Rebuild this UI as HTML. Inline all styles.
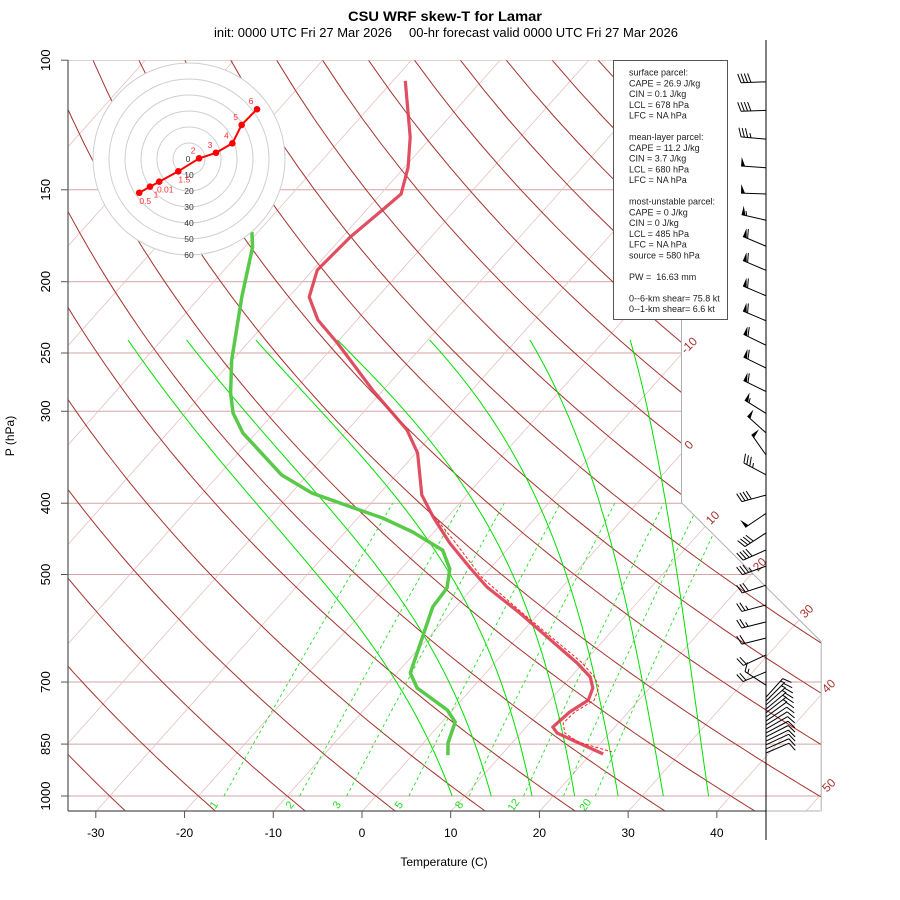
<!DOCTYPE html>
<html><head><meta charset="utf-8"><style>
html,body{margin:0;padding:0;background:#fff}
svg{display:block;font-family:"Liberation Sans",sans-serif}
</style></head><body>
<svg id="chart" width="900" height="900" viewBox="0 0 900 900" xmlns="http://www.w3.org/2000/svg">
<defs><clipPath id="plotclip"><polygon id="clipPoly" points=""/></clipPath></defs>
<rect x="0" y="0" width="900" height="900" fill="#fff"/>
<text x="445" y="21" text-anchor="middle" font-size="14" font-weight="bold" textLength="194" lengthAdjust="spacingAndGlyphs">CSU WRF skew-T for Lamar</text>
<text y="37" font-size="12.5"><tspan x="214" textLength="178" lengthAdjust="spacingAndGlyphs">init: 0000 UTC Fri 27 Mar 2026</tspan><tspan x="409" textLength="269" lengthAdjust="spacingAndGlyphs">00-hr forecast valid 0000 UTC Fri 27 Mar 2026</tspan></text>
<g id="gridG" clip-path="url(#plotclip)"></g>
<g id="frameG"></g>
<g id="profG" clip-path="url(#plotclip)"></g>
<g id="hodoG"></g>
<g id="axisG"></g>
<g id="barbG"></g>
<g>
<rect x="613.5" y="60.5" width="114" height="259" fill="#fff" stroke="#555" stroke-width="1"/>
<text font-size="9" fill="#222" x="629">
<tspan x="629" y="75.5">surface parcel:</tspan>
<tspan x="629" dy="10.75">CAPE = 26.9 J/kg</tspan>
<tspan x="629" dy="10.75">CIN = 0.1 J/kg</tspan>
<tspan x="629" dy="10.75">LCL = 678 hPa</tspan>
<tspan x="629" dy="10.75">LFC = NA hPa</tspan>
<tspan x="629" dy="21.5">mean-layer parcel:</tspan>
<tspan x="629" dy="10.75">CAPE = 11.2 J/kg</tspan>
<tspan x="629" dy="10.75">CIN = 3.7 J/kg</tspan>
<tspan x="629" dy="10.75">LCL = 680 hPa</tspan>
<tspan x="629" dy="10.75">LFC = NA hPa</tspan>
<tspan x="629" dy="21.5">most-unstable parcel:</tspan>
<tspan x="629" dy="10.75">CAPE = 0 J/kg</tspan>
<tspan x="629" dy="10.75">CIN = 0 J/kg</tspan>
<tspan x="629" dy="10.75">LCL = 485 hPa</tspan>
<tspan x="629" dy="10.75">LFC = NA hPa</tspan>
<tspan x="629" dy="10.75">source = 580 hPa</tspan>
<tspan x="629" dy="21.5" xml:space="preserve">PW =  16.63 mm</tspan>
<tspan x="629" dy="21.5">0--6-km shear= 75.8 kt</tspan>
<tspan x="629" dy="10.75">0--1-km shear= 6.6 kt</tspan>
</text>
</g>
<text x="444" y="866" text-anchor="middle" font-size="12">Temperature (C)</text>
<text x="14" y="436" text-anchor="middle" font-size="12" transform="rotate(-90 14 436)">P (hPa)</text>
</svg>
<script>
// ---- data ----
const tempP = [106.7,127.2,139.8,152,159.8,173.9,192.8,209.8,225.5,242.3,280.7,318.1,341.8,389.8,417.7,453.2,489.9,520,564,659.5,689,713.4,740.7,768.9,805.9,821.2,839.3,876.9];
const tempT = [-68.6,-62.4,-59.6,-57.7,-58.2,-59.1,-59.5,-57.7,-54.4,-49.9,-41.2,-33.3,-29.8,-25.1,-21.6,-17.1,-12.3,-8.5,-2.2,9.3,12.2,13.6,14.3,13.4,13.0,14.1,16.5,21.4];
const dewP = [171.2,179.5,209.8,255.5,283.4,301.7,321.1,366.2,387.4,408.6,419,437.7,463.3,491.4,521.6,553.5,680.4,713.4,764.1,793.4,847.2,879.7];
const dewT = [-70.7,-69.1,-65.3,-60.1,-56.9,-54.6,-51.5,-42.9,-37.7,-30.6,-27.2,-22.4,-17.2,-14.5,-12.9,-12.6,-8.5,-6.2,-0.6,1.5,2.8,4.0];
const parcelP = [417.7,451.7,503.9,562.2,657.5,689,711.2,740.7,768.9,796,821.2,844.6,871.1];
const parcelT = [-21.6,-16.8,-10.3,-2.3,9.5,12.5,14.0,14.8,13.8,13.6,14.8,17.2,22.0];
const hodoLabels = ["0.5","1","0.01","1.5","2","3","4","5","6"];
const hodoU = [-31.1,-24.4,-18.6,-6.7,6.3,16.9,27.1,32.9,42.5];
const hodoV = [-21.1,-17.3,-14.2,-7.7,0.4,3.9,9.8,21.3,31.1];
const barbP = [107,117,128,140,152,165,179,193,209,226,244,262,282,302,321,344,366,390,413,439,463,487,517,550,580,610,643,678,707,734,743,752,762,771,781,791,801,811,821,831,842,852,863,874];
const barbDir = [268,268,275,274,272,283,293,293,293,293,296,296,296,302,312,325,298,255,236,237,246,250,252,255,256,256,245,247,303,42,45,48,50,52,54,56,58,60,62,63,64,65,66,67];
const barbSpd = [40,40,35,50,50,55,60,60,60,60,60,60,60,55,50,50,35,40,50,40,40,35,30,25,25,20,20,20,15,15,15,15,15,15,10,10,10,10,10,10,10,10,10,10];
const pLevels = [100,150,200,250,300,400,500,700,850,1000];
const tTicks = [-30,-20,-10,0,10,20,30,40];
const mixRatios = [1,2,3,5,8,12,16,20];
const mixLabels = ["1","2","3","5","8","12","","20"];
const moistStart = [10,15,20,25,30,35,40];
const moistBottom = [8.6,13.0,17.6,22.4,27.3,32.4,37.5];
const moistTop = [-73.8,-67.2,-59.4,-50.2,-39.8,-28.5,-17.2];

// ---- axis functions ----
const SX=16.43, X0=375.9, SY=16.7, Y0=796;
function skY(p){return 132.182-44.061*Math.log10(p);}
function skX(T,Y){return 0.54*T+0.90692*Y;}
function px(T,p){return X0+SX*skX(T,skY(p));}
function py(p){return Y0-SY*skY(p);}
function ux(x){return X0+SX*x;}
function uy(Y){return Y0-SY*Y;}
const NS="http://www.w3.org/2000/svg";
function mk(tag,attrs,parent){const e=document.createElementNS(NS,tag);for(const k in attrs)e.setAttribute(k,attrs[k]);parent.appendChild(e);return e;}
function ptsStr(a){return a.map(q=>q[0].toFixed(1)+","+q[1].toFixed(1)).join(" ");}

const polyU=[[-18.74,-0.9346],[27.1,-0.9346],[27.1,9.237269],[18.6,17.561695],[18.6,44.061312],[-18.74,44.061312]];
const polyPx=polyU.map(q=>[ux(q[0]),uy(q[1])]);
document.getElementById('clipPoly').setAttribute('points',ptsStr(polyPx));

const grid=document.getElementById('gridG');
pLevels.forEach(p=>{
  const l=mk('line',{x1:60,x2:830,y1:py(p),y2:py(p),stroke:'#d4a3a3','stroke-width':1},grid);
  
  
});
for(let T=-140;T<=50;T+=10){
  const l=mk('line',{x1:px(T,1100),y1:py(1100),x2:px(T,90),y2:py(90),stroke:'#e8c0c0','stroke-width':0.8},grid);
  
  
}
for(let th=-30;th<=170;th+=10){
  const pts=[];
  for(let p=1050;p>=100;p-=10){const T=(th+273.15)*Math.pow(p/1000,0.286)-273.15;pts.push([px(T,p),py(p)]);}
  const l=mk('polyline',{points:ptsStr(pts),fill:'none',stroke:'#a5322c','stroke-width':1},grid);
  
  
}
// moist adiabats: shape from pseudo-adiabat integration, anchored to read endpoints
function es(T){return 6.112*Math.exp(17.67*T/(T+243.5));}
function dTdp(T,p){const Tk=T+273.15,e=es(T),rs=0.622*e/(p-e);return (287*Tk+2.5e6*rs)/(p*(1005+2.5e6*2.5e6*rs*0.622/(287*Tk*Tk)));}
moistStart.forEach((T0,i)=>{
  let T=T0,p=1050;const raw=[];const dp=-2;
  while(p>240){
    if(p<=1000)raw.push([p,T]);
    const k1=dTdp(T,p),k2=dTdp(T+k1*dp,p+dp);T+=0.5*(k1+k2)*dp;p+=dp;
  }
  raw.push([p,T]);
  const tb=raw[0][1],tt=raw[raw.length-1][1];
  const pts=raw.map(r=>{const g=(r[1]-tb)/(tt-tb);const Tn=moistBottom[i]+(moistTop[i]-moistBottom[i])*g;return [px(Tn,r[0]),py(r[0])];});
  const l=mk('polyline',{points:ptsStr(pts),fill:'none',stroke:'#00e000','stroke-width':1},grid);
  
  
});
function tdW(w,p){const e=w*p/(622+w);const a=Math.log(e/6.112);return 243.5*a/(17.67-a);}
mixRatios.forEach((w,i)=>{
  const pts=[];for(let p=1000;p>=400;p-=20)pts.push([px(tdW(w,p),p),py(p)]);
  const l=mk('polyline',{points:ptsStr(pts),fill:'none',stroke:'#22e022','stroke-width':0.9,'stroke-dasharray':'3,3'},grid);
  
  
  if(mixLabels[i]){
    const x=px(tdW(w,1000),1000)-7,y=807;
    const t=mk('text',{x:x,y:y,'font-size':11,fill:'#22dd22','text-anchor':'middle',transform:'rotate(-55 '+x+' '+y+')'},document.getElementById('axisG'));
    t.textContent=mixLabels[i];
    
    
  }
});

const frame=document.getElementById('frameG');
mk('polyline',{points:ptsStr([polyPx[1],polyPx[2],polyPx[3],polyPx[4]]),fill:'none',stroke:'#b0b0b0','stroke-width':1},frame);
const ax=document.getElementById('axisG');
mk('line',{x1:68,y1:60,x2:68,y2:811,stroke:'#555','stroke-width':1.2},ax);
mk('line',{x1:68,y1:811,x2:766,y2:811,stroke:'#555','stroke-width':1.2},ax);
mk('line',{x1:766,y1:811,x2:820,y2:811,stroke:'#b0b0b0','stroke-width':1},ax);
pLevels.forEach(p=>{
  const y=py(p);
  mk('line',{x1:61,x2:68,y1:y,y2:y,stroke:'#555','stroke-width':1},ax);
  const t=mk('text',{x:50,y:y,'font-size':13,'text-anchor':'middle',transform:'rotate(-90 50 '+y+')'},ax);
  t.textContent=String(p);
  
  
});
tTicks.forEach(T=>{
  const x=px(T,1050);
  mk('line',{x1:x,x2:x,y1:811,y2:818,stroke:'#555','stroke-width':1},ax);
  const t=mk('text',{x:x,y:837,'font-size':12,'text-anchor':'middle'},ax);
  t.textContent=String(T);
  
  
});
function rightB(Y){if(Y<9.237269)return 27.1;if(Y<17.561695)return 27.1-(Y-9.237269)*(8.5/8.324426);return 18.6;}
for(let T=-40;T<=60;T+=10){
  let found=null;
  for(let Y=-0.93;Y<=44;Y+=0.02){if(skX(T,Y)>=rightB(Y)){found=Y;break;}}
  if(found===null||found<-0.9)continue;
  const x=ux(skX(T,found))+8,y=uy(found)-8;
  const t=mk('text',{x:x,y:y,'font-size':12,fill:'#a5322c','text-anchor':'middle','dominant-baseline':'middle',transform:'rotate(-45 '+x+' '+y+')'},ax);
  t.textContent=String(T);
  
  
}

const prof=document.getElementById('profG');
const dl=mk('polyline',{points:ptsStr(dewP.map((p,i)=>[px(dewT[i],p),py(p)])),fill:'none',stroke:'#58c948','stroke-width':3.5,'stroke-linejoin':'round'},prof);


const tl=mk('polyline',{points:ptsStr(tempP.map((p,i)=>[px(tempT[i],p),py(p)])),fill:'none',stroke:'#dc3c50','stroke-width':3.2,'stroke-linejoin':'round','stroke-opacity':0.9},prof);


const pl=mk('polyline',{points:ptsStr(parcelP.map((p,i)=>[px(parcelT[i],p)+1.5,py(p)])),fill:'none',stroke:'#ff2020','stroke-width':1,'stroke-dasharray':'3,2'},prof);



const hg=document.getElementById('hodoG');
const HC=[189,159],HK=1.6;
mk('circle',{cx:HC[0],cy:HC[1],r:96,fill:'#fff',stroke:'none'},hg);
for(let k=1;k<=6;k++){
  const c=mk('circle',{cx:HC[0],cy:HC[1],r:k*16,fill:'none',stroke:'#cfcfcf','stroke-width':1},hg);
  
  
}
const z=mk('text',{x:HC[0]-1,y:HC[1]+3,'font-size':8.5,fill:'#333','text-anchor':'middle'},hg);z.textContent='0';
for(let k=1;k<=6;k++){
  const t=mk('text',{x:HC[0],y:HC[1]+k*16+3,'font-size':8.5,fill:'#333','text-anchor':'middle'},hg);
  t.textContent=String(k*10);
  
  
}
const hp=hodoU.map((u,i)=>[HC[0]+u*HK,HC[1]-hodoV[i]*HK]);
const hl=mk('polyline',{points:ptsStr(hp),fill:'none',stroke:'#ff0000','stroke-width':2},hg);


hp.forEach((q,i)=>{
  const c=mk('circle',{cx:q[0],cy:q[1],r:3.3,fill:'#ff0000'},hg);
  
  
  const below=i<4;
  const t=mk('text',{x:q[0]+(below?6:-6),y:q[1]+(below?11:-5),'font-size':8.5,fill:'#ff3030','text-anchor':'middle'},hg);
  t.textContent=hodoLabels[i];
  
  
});

const bg=document.getElementById('barbG');
mk('line',{x1:766,y1:40,x2:766,y2:840,stroke:'#000','stroke-width':1},bg);
barbP.forEach((p,i)=>{
  const g=mk('g',{},bg);
  
  
  const a=barbDir[i]*Math.PI/180;
  const d=[Math.sin(a),-Math.cos(a)],pr=[-d[1],d[0]];
  const b=[766,py(p)],L=25,tip=[b[0]+d[0]*L,b[1]+d[1]*L];
  mk('line',{x1:b[0],y1:b[1],x2:tip[0],y2:tip[1],stroke:'#000','stroke-width':1},g);
  let s=Math.round(barbSpd[i]/5)*5,pos=0;
  while(s>=50){
    const p1=[tip[0]-d[0]*pos,tip[1]-d[1]*pos],p2=[tip[0]-d[0]*(pos+4),tip[1]-d[1]*(pos+4)];
    const ap=[p1[0]+pr[0]*9,p1[1]+pr[1]*9];
    mk('polygon',{points:ptsStr([p1,ap,p2]),fill:'#000'},g);
    pos+=5;s-=50;
  }
  while(s>=10){
    const p1=[tip[0]-d[0]*pos,tip[1]-d[1]*pos];
    mk('line',{x1:p1[0],y1:p1[1],x2:p1[0]+pr[0]*9+d[0]*3,y2:p1[1]+pr[1]*9+d[1]*3,stroke:'#000','stroke-width':1},g);
    pos+=3.3;s-=10;
  }
  if(s>=5){
    if(pos===0)pos=3.3;
    const p1=[tip[0]-d[0]*pos,tip[1]-d[1]*pos];
    mk('line',{x1:p1[0],y1:p1[1],x2:p1[0]+pr[0]*4.5+d[0]*1.5,y2:p1[1]+pr[1]*4.5+d[1]*1.5,stroke:'#000','stroke-width':1},g);
  }
});
</script>
</body></html>
